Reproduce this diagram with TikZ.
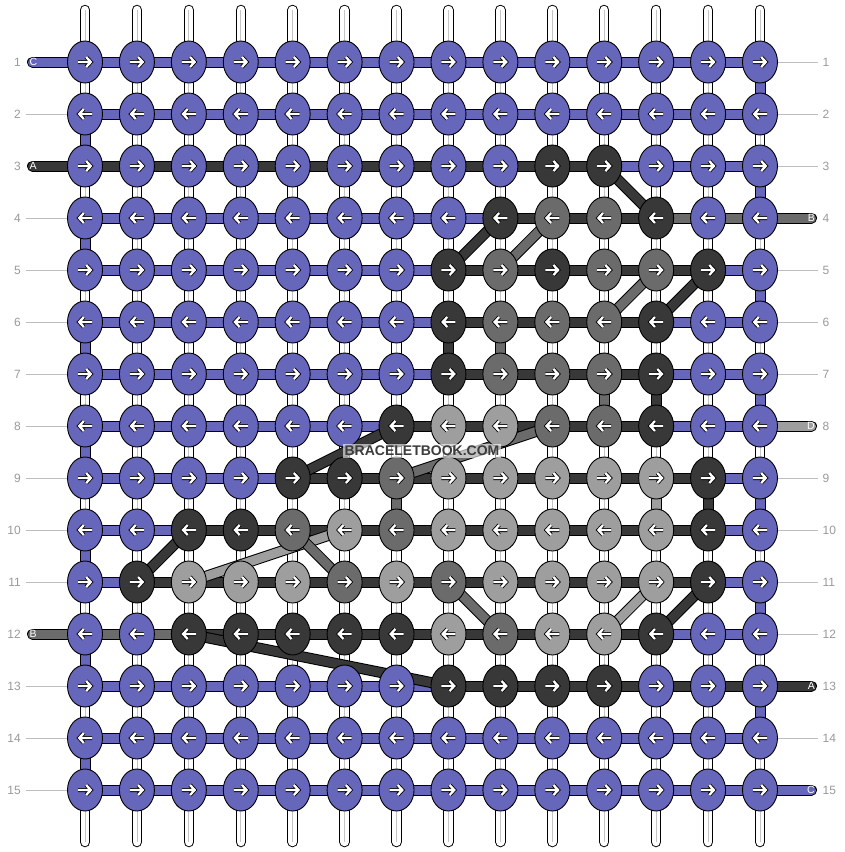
\documentclass[tikz,border=0pt]{standalone}
\usepackage{fontspec}
\setmainfont{Liberation Sans}
\usetikzlibrary{shapes.geometric}
\pgfdeclarelayer{warplayer}
\pgfdeclarelayer{stringlayer}
\pgfdeclarelayer{toplayer}
\pgfsetlayers{warplayer,stringlayer,main,toplayer}
\definecolor{cb}{HTML}{6666BB}
\definecolor{cd}{HTML}{383838}
\definecolor{cm}{HTML}{6B6B6B}
\definecolor{cl}{HTML}{9E9E9E}
\definecolor{numgray}{HTML}{999999}
\definecolor{guidegray}{HTML}{BEBEBE}
\definecolor{warpline}{HTML}{C4C4C4}
\definecolor{wmtext}{HTML}{3C3C3C}
\tikzset{
  knot/.style={ellipse, draw=black, line width=0.9pt, fill=#1,
    minimum width=35pt, minimum height=42pt, inner sep=0pt},
  strand/.style={draw=black, line width=1pt, double=#1, double distance=9pt},
  warp/.style={draw=black, line width=1pt, double=white, double distance=8.5pt, line cap=round},
  warpmid/.style={draw=warpline, line width=0.8pt},
  guide/.style={draw=guidegray, line width=1pt},
  rownum/.style={text=numgray, font=\fontsize{12}{13}\selectfont, inner sep=0pt},
  endtag/.style={text=white, font=\fontsize{10.5}{11}\selectfont, inner sep=0pt},
  arrowout/.style={draw=black, line width=4pt, line cap=square, line join=miter},
  arrowin/.style={draw=white, line width=2.3pt, line cap=square, line join=miter},
}
\begin{document}
\begin{tikzpicture}[x=1pt,y=-1pt]
\useasboundingbox (0,0) rectangle (844,852);

% ---------------- knots
\foreach \rr/\kl in {
 1/{b,b,b,b,b,b,b,b,b,b,b,b,b,b},
 2/{b,b,b,b,b,b,b,b,b,b,b,b,b,b},
 3/{b,b,b,b,b,b,b,b,b,d,d,b,b,b},
 4/{b,b,b,b,b,b,b,b,d,m,m,d,b,b},
 5/{b,b,b,b,b,b,b,d,m,d,m,m,d,b},
 6/{b,b,b,b,b,b,b,d,m,m,m,d,b,b},
 7/{b,b,b,b,b,b,b,d,m,m,m,d,b,b},
 8/{b,b,b,b,b,b,d,l,l,m,m,d,b,b},
 9/{b,b,b,b,d,d,m,l,l,l,l,l,d,b},
 10/{b,b,d,d,m,l,m,l,l,l,l,l,d,b},
 11/{b,d,l,l,l,m,l,m,l,l,l,l,d,b},
 12/{b,b,d,d,d,d,d,l,m,l,l,d,b,b},
 13/{b,b,b,b,b,b,b,d,d,d,d,b,b,b},
 14/{b,b,b,b,b,b,b,b,b,b,b,b,b,b},
 15/{b,b,b,b,b,b,b,b,b,b,b,b,b,b}}{
  \foreach \kk [count=\cc] in \kl {
    \node[knot=c\kk] (k-\rr-\cc) at ({33.077+51.923*\cc},{10+52*\rr}) {};
  }
}

% ---------------- arrows
\foreach \rr in {1,...,15}{
  \pgfmathsetmacro\dir{ifthenelse(mod(\rr,2)==1,1,-1)}
  \foreach \cc in {1,...,14}{
    \begin{scope}[shift={(k-\rr-\cc.center)}, xscale=\dir]
      \draw[arrowout] (-7,0) -- (5.8,0) (1.2,-5) -- (5.8,0) -- (1.2,5);
      \draw[arrowin] (-7,0) -- (5.8,0) (1.2,-5) -- (5.8,0) -- (1.2,5);
    \end{scope}
  }
}

% ---------------- warps
\begin{pgfonlayer}{warplayer}
\foreach \cc in {1,...,14}{
  \coordinate (wt-\cc) at ({33.077+51.923*\cc},10);
  \coordinate (wb-\cc) at ({33.077+51.923*\cc},842);
  \draw[warp] (wt-\cc) -- (wb-\cc);
  \draw[warpmid] (wt-\cc) -- (wb-\cc);
}
\end{pgfonlayer}

% ---------------- strings
\begin{pgfonlayer}{stringlayer}
\foreach \rr/\sl in {
 1/{b,b,b,b,b,b,b,b,b,b,b,b,b},
 2/{b,b,b,b,b,b,b,b,b,b,b,b,b},
 3/{d,d,d,d,d,d,d,d,d,d,b,b,b},
 4/{b,b,b,b,b,b,b,b,d,d,d,m,m},
 5/{b,b,b,b,b,b,b,d,d,d,d,d,b},
 6/{b,b,b,b,b,b,b,d,d,d,d,b,b},
 7/{b,b,b,b,b,b,b,d,d,d,d,b,b},
 8/{b,b,b,b,b,b,d,d,d,d,d,b,b},
 9/{b,b,b,b,d,d,d,d,d,d,d,d,b},
 10/{b,b,d,d,d,d,d,d,d,d,d,d,b},
 11/{b,d,d,d,d,d,d,d,d,d,d,d,b},
 12/{m,m,d,d,d,d,d,d,d,d,d,b,b},
 13/{b,b,b,b,b,b,b,d,d,d,d,d,d},
 14/{b,b,b,b,b,b,b,b,b,b,b,b,b},
 15/{b,b,b,b,b,b,b,b,b,b,b,b,b}}{
  \foreach \sg [count=\cc] in \sl {
    \pgfmathtruncatemacro\cn{\cc+1}
    \draw[strand=c\sg] (k-\rr-\cc.center) -- (k-\rr-\cn.center);
  }
}
% edge turns
\foreach \rr in {2,4,...,14}{
  \pgfmathtruncatemacro\rn{\rr+1}
  \draw[strand=cb] (k-\rr-1.center) -- (k-\rn-1.center);
}
\foreach \rr in {1,3,...,13}{
  \pgfmathtruncatemacro\rn{\rr+1}
  \draw[strand=cb] (k-\rr-14.center) -- (k-\rn-14.center);
}
% interior vertical carries
\foreach \cc/\rr/\sg in {8/6/d, 9/6/m, 11/7/m, 12/7/d, 7/9/m, 12/9/l, 13/9/d}{
  \pgfmathtruncatemacro\rn{\rr+1}
  \draw[strand=c\sg] (k-\rr-\cc.center) -- (k-\rn-\cc.center);
}
% diagonal carries
\foreach \rA/\cA/\rB/\cB/\sg in {3/11/4/12/d, 4/9/5/8/d, 4/10/5/9/m, 5/12/6/11/m,
   5/13/6/12/d, 8/7/9/5/d, 8/10/9/7/m, 10/3/11/2/d, 10/6/11/3/l, 10/5/11/6/m,
   11/8/12/9/m, 11/12/12/11/l, 11/13/12/12/d, 12/3/13/8/d}{
  \draw[strand=c\sg] (k-\rA-\cA.center) -- (k-\rB-\cB.center);
}
% left string ends
\foreach \rr/\sg/\tg in {1/b/C, 3/d/A, 12/m/B}{
  \coordinate (ls-\rr) at (32.5,{10+52*\rr});
  \draw[strand=c\sg, line cap=round] (ls-\rr) -- (k-\rr-1.center);
  \node[endtag, anchor=west] (lt-\rr) at (29.5,{10+52*\rr}) {\tg};
}
% right string ends
\foreach \rr/\sg/\tg in {4/m/B, 8/l/D, 13/d/A, 15/b/C}{
  \coordinate (rs-\rr) at (811.5,{10+52*\rr});
  \draw[strand=c\sg, line cap=round] (k-\rr-14.center) -- (rs-\rr);
  \node[endtag, anchor=east] (rt-\rr) at (815,{10+52*\rr}) {\tg};
}
% guide lines
\foreach \rr in {2,4,5,6,7,8,9,10,11,13,14,15}{
  \coordinate (lg-\rr) at (26,{10+52*\rr});
  \draw[guide] (lg-\rr) -- (k-\rr-1.center);
}
\foreach \rr in {1,2,3,5,6,7,9,10,11,12,14}{
  \coordinate (rg-\rr) at (818,{10+52*\rr});
  \draw[guide] (k-\rr-14.center) -- (rg-\rr);
}
\end{pgfonlayer}

% ---------------- row numbers
\foreach \rr in {1,...,15}{
  \node[rownum, anchor=east] (ln-\rr) at (21,{10+52*\rr}) {\rr};
  \node[rownum, anchor=west] (rn-\rr) at (822.5,{10+52*\rr}) {\rr};
}

% ---------------- watermark
\begin{pgfonlayer}{toplayer}
\node[fill=white, fill opacity=0.6, text opacity=1, text=wmtext,
  font=\bfseries\fontsize{14}{14}\selectfont, inner xsep=1.5pt, inner ysep=2pt]
  (wm) at (422,451) {BRACELETBOOK.COM};
\end{pgfonlayer}
\end{tikzpicture}
\end{document}
